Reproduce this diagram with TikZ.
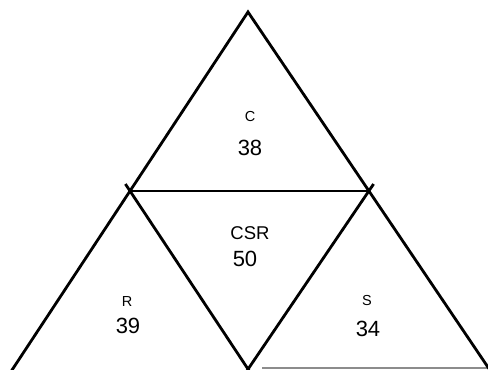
\documentclass[tikz,border=0pt]{standalone}
\usepackage{fontspec}
\setmainfont{Liberation Sans}
\begin{document}
\begin{tikzpicture}[x=1pt,y=-1pt,
  edge/.style={line width=2.8pt,line join=miter,line cap=butt},
  midedge/.style={line width=2.2pt},
  faint/.style={line width=1.2pt,draw=black!45},
  lettr/.style={inner sep=0pt,font=\fontsize{14.5}{14.5}\selectfont},
  lettrbig/.style={inner sep=0pt,font=\fontsize{18.5}{18.5}\selectfont},
  numb/.style={inner sep=0pt,font=\fontsize{22}{22}\selectfont}]
\clip (0,0) rectangle (488,370);
\fill[white] (0,0) rectangle (488,370);
\coordinate (A) at (248,12);
\coordinate (L) at (130,191);
\coordinate (M) at (369,191);
\coordinate (B) at (248,369);
\coordinate (BL) at (12,370);
\coordinate (BR) at (490,370);
\coordinate (F1) at (262,368);
\coordinate (F2) at (488,368);
\draw[faint] (F1) -- (F2);
\draw[edge] ([shift={(-4.6,7)}]BL) -- (A) -- ([shift={(4.6,7)}]BR);
\draw[edge] ([shift={(-4.6,-7)}]L) -- ([shift={(4.6,7)}]B) -- ([shift={(-4.6,7)}]B) -- ([shift={(4.6,-7)}]M);
\draw[midedge] (L) -- (M);
\node[lettr] (tc) at (250,117) {C};
\node[numb] (n38) at (250,148) {38};
\node[lettrbig] (tcsr) at (250,233) {CSR};
\node[numb] (n50) at (245,259) {50};
\node[lettr] (tr) at (127,302) {R};
\node[numb] (n39) at (128,326) {39};
\node[lettr] (ts) at (367,301) {S};
\node[numb] (n34) at (368,329) {34};
\end{tikzpicture}
\end{document}
